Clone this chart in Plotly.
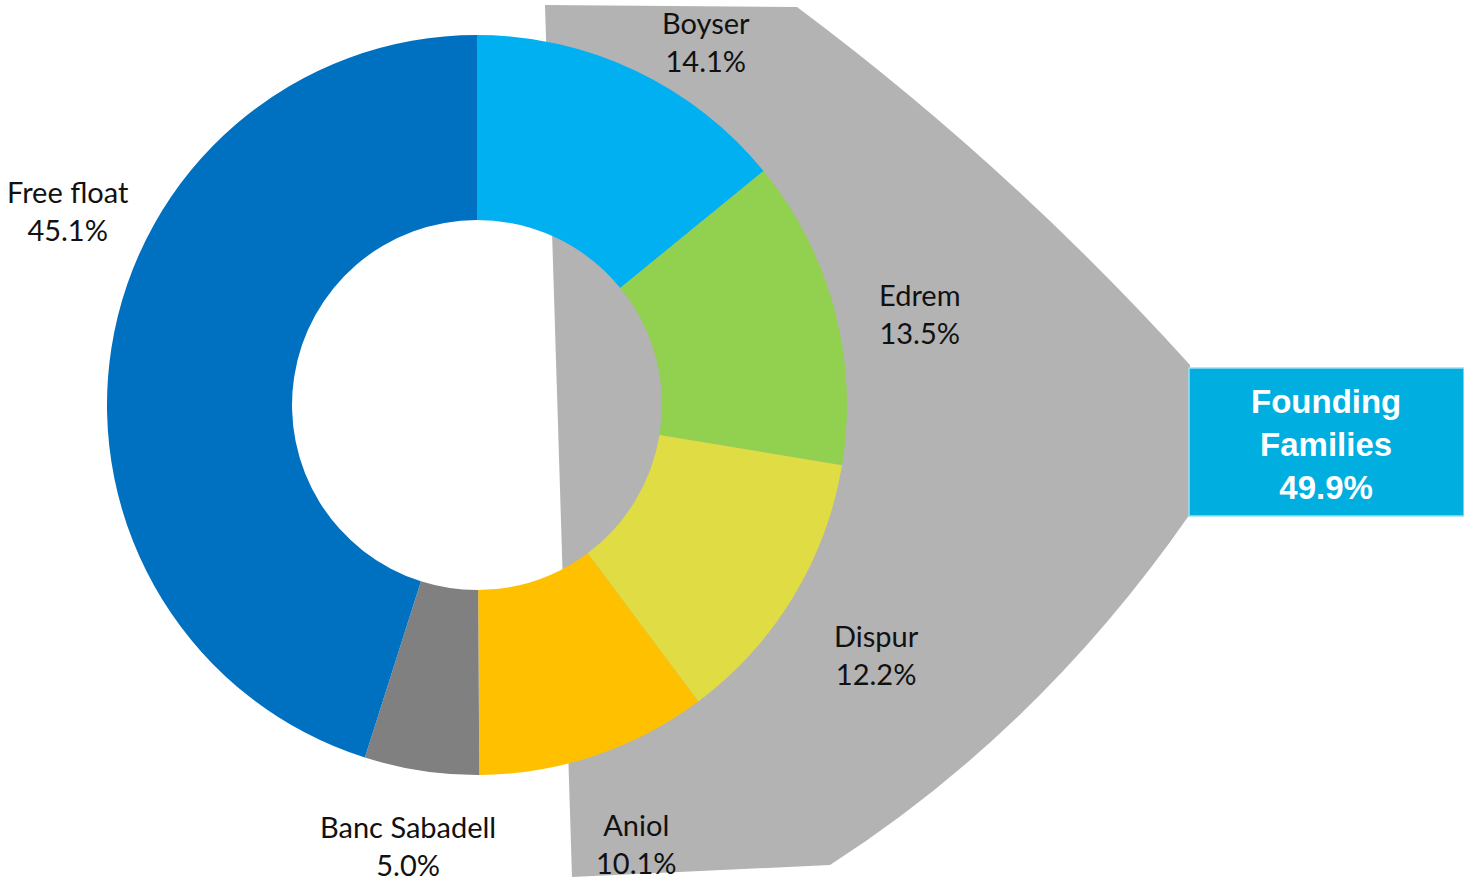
import plotly.graph_objects as go

labels = ["Boyser", "Edrem", "Dispur", "Aniol", "Banc Sabadell", "Free float"]
values = [14.1, 13.5, 12.2, 10.1, 5.0, 45.1]
colors = ["#00B0F0", "#92D050", "#E0DC44", "#FFC000", "#808080", "#0070C0"]
group_label = "Founding<br>Families"
group_value = 49.9

W, H = 1464, 883

def px(x, y):
    return x / W, 1 - y / H

def pt(x, y):
    a, b = px(x, y)
    return f"{a:.5f},{b:.5f}"

fig = go.Figure()
fig.add_trace(go.Pie(
    labels=labels, values=values, sort=False, direction="clockwise", rotation=0,
    hole=0.5, marker=dict(colors=colors, line=dict(width=0)),
    textinfo="none", hoverinfo="label+percent", showlegend=False,
    domain=dict(x=[107 / W, 847 / W], y=[1 - 775 / H, 1 - 35 / H]),
))

path = ("M " + pt(545, 5) + " L " + pt(797, 7) + " Q " + pt(1010, 166) + " " + pt(1190, 365)
        + " L " + pt(1190, 514) + " Q " + pt(1040, 730) + " " + pt(830, 865)
        + " L " + pt(572, 877) + " Z")
shapes = [
    dict(type="path", xref="paper", yref="paper", path=path, fillcolor="#B3B3B3",
         line=dict(width=0), layer="below"),
    dict(type="rect", xref="paper", yref="paper",
         x0=px(1189, 0)[0], x1=px(1464, 0)[0], y0=px(0, 516)[1], y1=px(0, 368)[1],
         fillcolor="#00AEDF", line=dict(color="#9FE0F2", width=1.5), layer="above"),
]

label_pos = {
    "Boyser": (706, 42), "Edrem": (920, 314), "Dispur": (876, 654),
    "Aniol": (636, 843), "Banc Sabadell": (408, 845), "Free float": (68, 210),
}
annotations = []
for lab, val in zip(labels, values):
    x, y = label_pos[lab]
    a, b = px(x, y)
    annotations.append(dict(
        x=a, y=b, xref="paper", yref="paper", text=f"{lab}<br>{val:.1f}%",
        showarrow=False, xanchor="center", yanchor="middle", align="center",
        font=dict(family="Lato, Carlito, 'Open Sans', sans-serif", size=29, color="#111111"),
    ))
a, b = px(1326, 444)
annotations.append(dict(
    x=a, y=b, xref="paper", yref="paper",
    text=f"<b>{group_label}<br>{group_value:.1f}%</b>",
    showarrow=False, xanchor="center", yanchor="middle", align="center",
    font=dict(family="'Liberation Sans Narrow', 'Arial Narrow', 'Liberation Sans', sans-serif",
              size=33, color="white"),
))

fig.update_layout(
    width=W, height=H, margin=dict(l=0, r=0, t=0, b=0),
    paper_bgcolor="white", plot_bgcolor="white",
    shapes=shapes, annotations=annotations,
)
fig.write_html("out.html", config={"displayModeBar": False},
               post_script="document.body.style.margin='0';")
